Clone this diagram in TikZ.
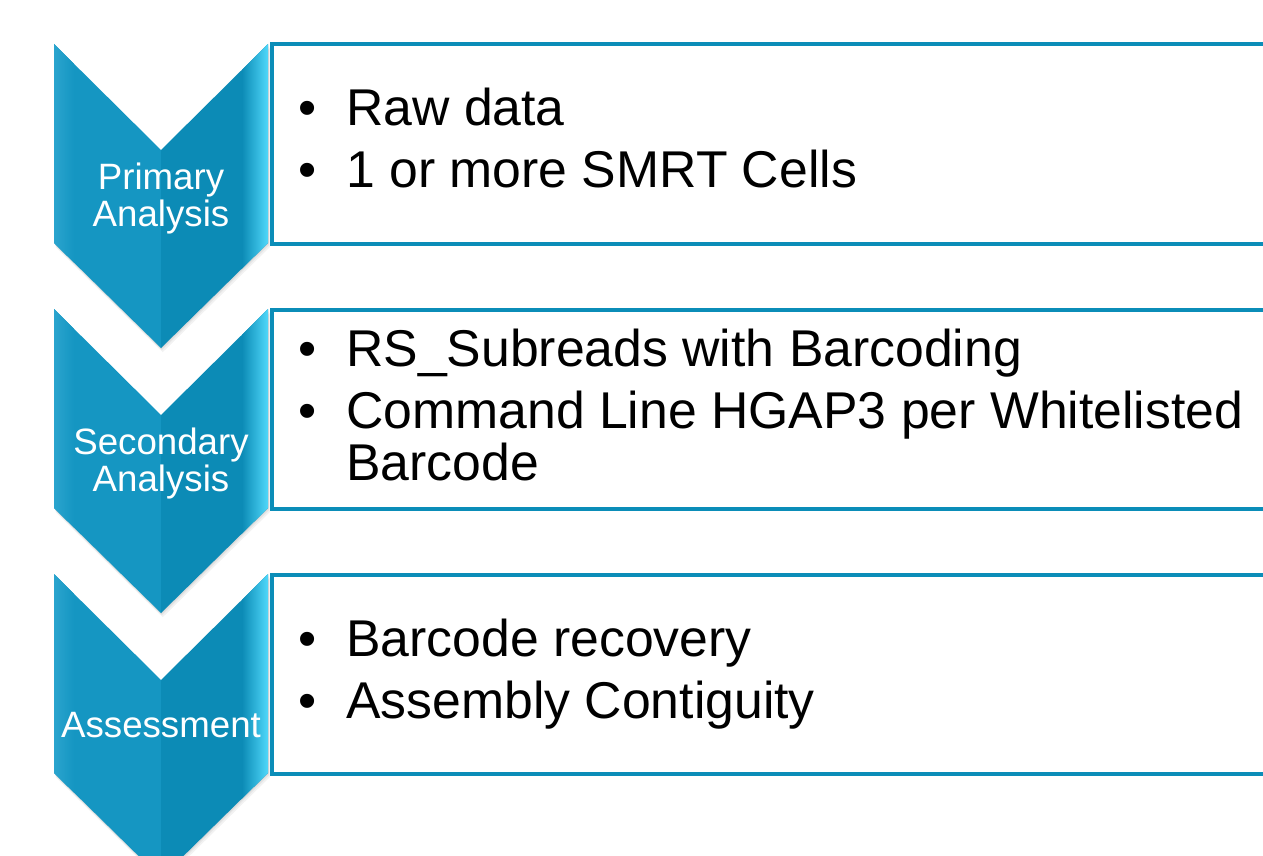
\documentclass[tikz,border=0pt]{standalone}
\usepackage{fontspec}
\setmainfont{Liberation Sans}
\definecolor{boxblue}{HTML}{0B8DB8}
\definecolor{chevL}{HTML}{1596C2}
\definecolor{chevLedge}{HTML}{2AA4CE}
\definecolor{chevR}{HTML}{0C8BB6}
\definecolor{chevRmid}{HTML}{1A9FCB}
\definecolor{chevRedge}{HTML}{4FD8FA}
\tikzset{
  itemtext/.style={anchor=base west, inner sep=0pt, text=black,
    font=\fontsize{38.8}{39}\selectfont},
  bulletdot/.style={anchor=base, inner sep=0pt, text=black,
    font=\fontsize{38.8}{39}\selectfont},
  chevtext/.style={anchor=base, inner sep=0pt, text=white,
    font=\fontsize{27.5}{28}\selectfont},
  stagebox/.style={draw=boxblue, line width=3pt, fill=white},
}
\newcommand\drawchev[1]{%
  % soft shadow
  \foreach \s/\o in {1/0.05,2/0.05,3.5/0.05}{
    \fill[black,opacity=\o] ({54+\s*0.5},{#1+\s*1.2}) -- ({161},{#1+106+\s*1.2}) -- ({268+\s*0.5},{#1+\s*1.2})
      -- ({268+\s*0.5},{#1+199+\s*1.2}) -- ({161+\s*0.5},{#1+304+\s*1.2}) -- ({54+\s*0.5},{#1+199+\s*1.2}) -- cycle;
  }
  \fill[chevL] (54,#1) -- (161,{#1+106}) -- (161,{#1+304}) -- (54,{#1+199}) -- cycle;
  \fill[chevR] (161,{#1+106}) -- (268,#1) -- (268,{#1+199}) -- (161,{#1+304}) -- cycle;
  \begin{scope}
    \clip (54,#1) -- (161,{#1+106}) -- (161,{#1+304}) -- (54,{#1+199}) -- cycle;
    \shade[left color=chevLedge, right color=chevL] (54,#1) rectangle (74,{#1+304});
  \end{scope}
  \begin{scope}
    \clip (161,{#1+106}) -- (268,#1) -- (268,{#1+199}) -- (161,{#1+304}) -- cycle;
    \shade[left color=chevR, middle color=chevRmid, right color=chevRedge] (242,#1) rectangle (268,{#1+304});
  \end{scope}
}
\begin{document}
\begin{tikzpicture}[x=0.75pt, y=-0.75pt]
  \useasboundingbox (0,0) rectangle (1263,856);
  \clip (0,0) rectangle (1263,856);

  % boxes
  \node[stagebox, minimum width=1100*0.75pt, minimum height=199*0.75pt, anchor=north west, inner sep=0pt] (box1) at (270,42.5) {};
  \node[stagebox, minimum width=1100*0.75pt, minimum height=199*0.75pt, anchor=north west, inner sep=0pt] (box2) at (270,307.5) {};
  \node[stagebox, minimum width=1100*0.75pt, minimum height=199*0.75pt, anchor=north west, inner sep=0pt] (box3) at (270,572.5) {};

  % chevrons
  \drawchev{44}
  \drawchev{309}
  \drawchev{574}

  % chevron labels
  \node[chevtext] (lab1a) at (161,189) {Primary};
  \node[chevtext] (lab1b) at (161,226) {Analysis};
  \node[chevtext] (lab2a) at (161,454) {Secondary};
  \node[chevtext] (lab2b) at (161,491) {Analysis};
  \node[chevtext] (lab3) at (161,737) {Assessment};

  % box 1
  \node[bulletdot] (b11) at (308,125) {•};
  \node[itemtext] (t11) at (346,125) {Raw data};
  \node[bulletdot] (b12) at (308,187) {•};
  \node[itemtext] (t12) at (346,187) {1 or more SMRT Cells};

  % box 2
  \node[bulletdot] (b21) at (308,366) {•};
  \node[itemtext] (t21) at (346,366) {RS\_Subreads with Barcoding};
  \node[bulletdot] (b22) at (308,428) {•};
  \node[itemtext] (t22) at (346,428) {Command Line HGAP3 per Whitelisted};
  \node[itemtext] (t22b) at (346,480) {Barcode};

  % box 3
  \node[bulletdot] (b31) at (308,656) {•};
  \node[itemtext] (t31) at (346,656) {Barcode recovery};
  \node[bulletdot] (b32) at (308,718) {•};
  \node[itemtext] (t32) at (346,718) {Assembly Contiguity};
\end{tikzpicture}
\end{document}
